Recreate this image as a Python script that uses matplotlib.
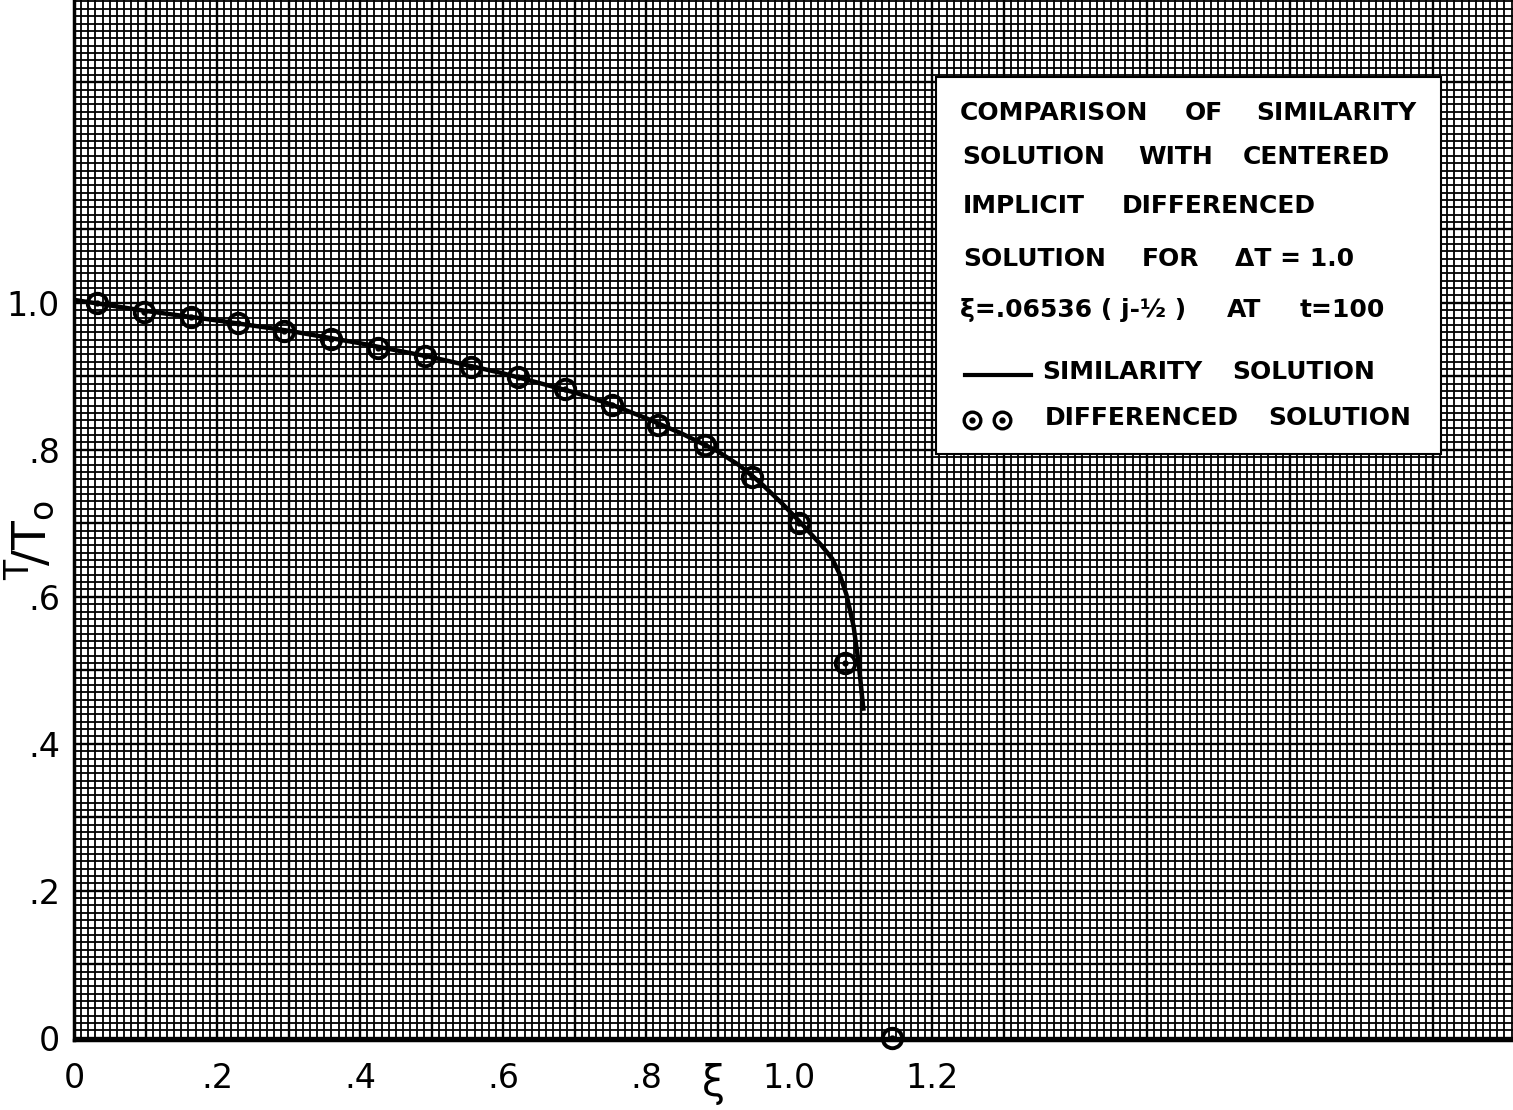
import numpy as np
import matplotlib
matplotlib.use("Agg")
import matplotlib.pyplot as plt
from matplotlib.ticker import MultipleLocator
from matplotlib.patches import Rectangle
from matplotlib.lines import Line2D

# ---------------- data ----------------
# differenced solution, xi = .06536 (j - 1/2)
diff_xi = [0.0327, 0.0980, 0.1634, 0.2288, 0.2941, 0.3595, 0.4248, 0.4902,
           0.5556, 0.6209, 0.6863, 0.7516, 0.8170, 0.8824, 0.9477, 1.0131,
           1.0784, 1.1438]
diff_T = [1.000, 0.988, 0.981, 0.973, 0.961, 0.951, 0.939, 0.928,
          0.913, 0.899, 0.883, 0.861, 0.834, 0.807, 0.763, 0.701,
          0.510, 0.000]

# similarity solution
sim_xi = [0.0, 0.1, 0.2, 0.3, 0.4, 0.5, 0.6, 0.7, 0.75, 0.8, 0.85, 0.9,
          0.93, 0.96, 0.99, 1.01, 1.03, 1.045, 1.06, 1.07, 1.08, 1.09,
          1.097, 1.104]
sim_T = [1.004, 0.989, 0.976, 0.962, 0.945, 0.926, 0.904, 0.878, 0.862,
         0.843, 0.822, 0.798, 0.779, 0.755, 0.727, 0.707, 0.686, 0.670,
         0.652, 0.632, 0.603, 0.560, 0.510, 0.445]

xtick_vals = [0.0, 0.2, 0.4, 0.6, 0.8, 1.0, 1.2]
xtick_labels = ["0", ".2", ".4", ".6", ".8", "1.0", "1.2"]
ytick_vals = [0.0, 0.2, 0.4, 0.6, 0.8, 1.0]
ytick_labels = ["0", ".2", ".4", ".6", ".8", "1.0"]

legend_lines = [
    ["COMPARISON", "OF", "SIMILARITY"],
    ["SOLUTION", "WITH", "CENTERED"],
    ["IMPLICIT", "DIFFERENCED"],
    ["SOLUTION", "FOR", "\u0394T = 1.0"],
    ["\u03be=.06536 ( j-\u00bd )", "AT", "t=100"],
    ["SIMILARITY", "SOLUTION"],
    ["DIFFERENCED", "SOLUTION"],
]

# ---------------- figure ----------------
W, H = 1513, 1110
fig = plt.figure(figsize=(W / 100, H / 100), dpi=100)
plt.rcParams['font.family'] = ['DejaVu Sans']

def fx(px):
    return px / W

def fy(py):
    return 1 - py / H

ax = fig.add_axes([fx(74), fy(1040), 1 - fx(74), 1040 / H])
ax.set_xlim(0, 2.012)
ax.set_ylim(-0.003, 1.412)

ax.set_xticks(xtick_vals, xtick_labels)
ax.set_yticks(ytick_vals, ytick_labels)
ax.xaxis.set_minor_locator(MultipleLocator(0.01))
ax.yaxis.set_minor_locator(MultipleLocator(0.01))
ax.tick_params(which='both', length=0)
ax.tick_params(axis='x', pad=16, labelsize=24)
ax.tick_params(axis='y', pad=10, labelsize=24)

ax.grid(which='minor', color='black', lw=1.3, zorder=0)
ax.grid(which='major', color='black', lw=1.7, zorder=0)
for v in np.arange(0.1, 2.01, 0.2):
    ax.axvline(v, color='black', lw=1.7, zorder=0)
for v in np.arange(0.1, 1.41, 0.2):
    ax.axhline(v, color='black', lw=1.7, zorder=0)
ax.set_axisbelow(True)
for s in ['left', 'bottom']:
    ax.spines[s].set_linewidth(2.5)
for s in ['right', 'top']:
    ax.spines[s].set_visible(False)

# curves
ax.plot(sim_xi, sim_T, color='black', lw=3.2, zorder=3, solid_capstyle='butt',
        solid_joinstyle='round')
ax.plot(diff_xi, diff_T, linestyle='none', marker='o', ms=14, mfc='none',
        mec='black', mew=2.8, zorder=4, clip_on=False)
ax.plot(diff_xi, diff_T, linestyle='none', marker='o', ms=3.5, mfc='black',
        mec='black', zorder=4, clip_on=False)

# axis labels
fig.text(fx(713), fy(1084), "\u03be", fontsize=30, ha='center', va='center')
fig.text(fx(30), fy(540), r"$^{\mathsf{T}}\!/\mathsf{T_o}$", fontsize=34,
         rotation=90, ha='center', va='center')

# legend box
box = Rectangle((fx(936), fy(454)), fx(1441) - fx(936), fy(77) - fy(454),
                transform=fig.transFigure, facecolor='white',
                edgecolor='black', lw=1.5, zorder=5)
fig.add_artist(box)

line_y = [113, 157, 206, 259, 310, 372, 418]
word_x = [
    [960, 1185, 1256],
    [962, 1138, 1243],
    [963, 1122],
    [963, 1142, 1235],
    [960, 1227, 1300],
    [1042, 1232],
    [1045, 1268],
]
for words, xs, yy in zip(legend_lines, word_x, line_y):
    for w, xx in zip(words, xs):
        fig.text(fx(xx), fy(yy), w, fontsize=18, fontweight='bold',
                 ha='left', va='center', zorder=6)

# legend symbols
fig.add_artist(Line2D([fx(965), fx(1031)], [fy(375), fy(375)],
                      transform=fig.transFigure, color='black', lw=3, zorder=6))
for cx in [972, 1002]:
    fig.add_artist(Line2D([fx(cx)], [fy(420)], transform=fig.transFigure,
                          marker='o', ms=12, mfc='none', mec='black', mew=2.4,
                          zorder=6))
    fig.add_artist(Line2D([fx(cx)], [fy(420)], transform=fig.transFigure,
                          marker='o', ms=3.5, mfc='black', mec='black',
                          zorder=6))

fig.savefig("out.png", dpi=100)
